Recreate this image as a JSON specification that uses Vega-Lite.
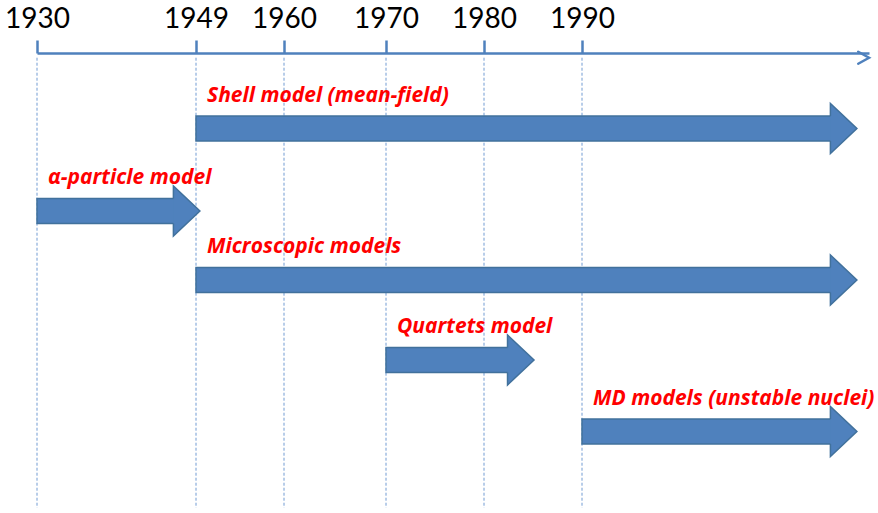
{
  "$schema": "https://vega.github.io/schema/vega-lite/v6.json",
  "width": 878,
  "height": 513,
  "autosize": {"type": "none"},
  "padding": 0,
  "background": "white",
  "config": {"view": {"stroke": null}},
  "datasets": {
    "years": [{"year": 1930}, {"year": 1949}, {"year": 1960}, {"year": 1970}, {"year": 1980}, {"year": 1990}],
    "models": [
      {"row": 1, "label": "Shell model (mean-field)", "start": 1949, "head": 2015.1},
      {"row": 2, "label": "α-particle model", "start": 1930, "head": 1946.3},
      {"row": 3, "label": "Microscopic models", "start": 1949, "head": 2015.1},
      {"row": 4, "label": "Quartets model", "start": 1970, "head": 1982.4},
      {"row": 5, "label": "MD models (unstable nuclei)", "start": 1990, "head": 2015.1}
    ]
  },
  "layer": [
    {
      "data": {"name": "years"},
      "mark": {"type": "rule", "stroke": "#5B8BCB", "strokeWidth": 1, "strokeDash": [3, 2], "opacity": 0.85},
      "encoding": {
        "x": {
          "field": "year", "type": "quantitative",
          "scale": {"domain": [1930, 1949, 1960, 1970, 1980, 1990, 2019], "range": [37, 196, 284, 386, 484, 582, 869], "nice": false, "zero": false},
          "axis": {
            "orient": "top", "offset": -53, "values": [1930, 1949, 1960, 1970, 1980, 1990], "format": "d",
            "title": null, "grid": false, "labelFont": "Lato", "labelFontSize": 28, "labelColor": "black",
            "labelBaseline": "alphabetic", "labelPadding": 13, "labelFlush": false, "labelOverlap": false,
            "tickSize": 13, "tickWidth": 2.5, "tickColor": "#4F81BD", "domainColor": "#4F81BD", "domainWidth": 2.5
          }
        },
        "y": {"datum": 0, "type": "quantitative", "scale": {"domain": [0, 1, 2, 3, 4, 5, 6], "range": [53, 128.5, 211, 280, 360, 431.5, 513], "nice": false, "zero": false}, "axis": null},
        "y2": {"datum": 6}
      }
    },
    {
      "data": {"values": [{"year": 2019, "row": 0}]},
      "mark": {"type": "point", "shape": "M-1.8,-1 L0,0 L-1.8,1", "size": 144, "filled": false, "fill": null, "stroke": "#4F81BD", "strokeWidth": 2.5, "opacity": 1, "strokeCap": "round", "strokeJoin": "miter"},
      "encoding": {
        "x": {"field": "year", "type": "quantitative", "title": null},
        "y": {"field": "row", "type": "quantitative", "axis": null}
      }
    },
    {
      "data": {"name": "models"},
      "mark": {"type": "bar", "orient": "horizontal", "height": 25, "fill": "#4F81BD", "stroke": "#41719C", "strokeWidth": 1.5, "x2Offset": 1.5},
      "encoding": {
        "x": {"field": "start", "type": "quantitative", "title": null},
        "x2": {"field": "head"},
        "y": {"field": "row", "type": "quantitative", "axis": null}
      }
    },
    {
      "data": {"name": "models"},
      "mark": {"type": "point", "shape": "M0,-0.5 L0,-1 L1.06,0 L0,1 L0,0.5", "size": 2500, "filled": true, "fill": "#4F81BD", "stroke": "#41719C", "strokeWidth": 1.5, "opacity": 1},
      "encoding": {
        "x": {"field": "head", "type": "quantitative", "title": null},
        "y": {"field": "row", "type": "quantitative", "axis": null}
      }
    },
    {
      "data": {"name": "models"},
      "mark": {"type": "text", "align": "left", "baseline": "alphabetic", "dx": 11, "dy": -27, "font": "Open Sans", "fontSize": 21, "fontStyle": "italic", "fontWeight": "bold", "fill": "#FF0000"},
      "encoding": {
        "x": {"field": "start", "type": "quantitative", "title": null},
        "y": {"field": "row", "type": "quantitative", "axis": null},
        "text": {"field": "label"}
      }
    }
  ]
}
